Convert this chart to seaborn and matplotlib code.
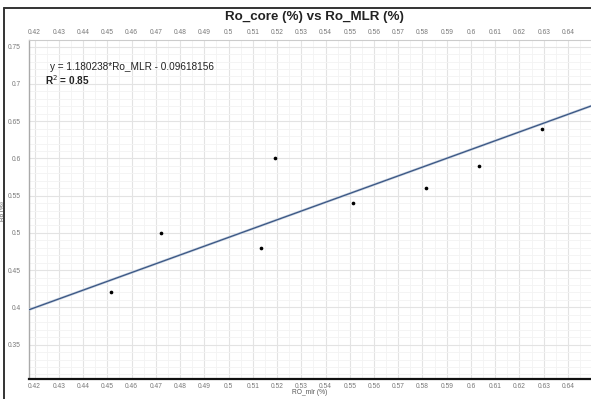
import numpy as np
import pandas as pd
import matplotlib
matplotlib.use("Agg")
import matplotlib.pyplot as plt
from matplotlib.lines import Line2D
from matplotlib.ticker import MultipleLocator, FixedLocator
import seaborn as sns

# Measured maturity values
ro_mlr = [0.4516, 0.4721, 0.5133, 0.5190, 0.5514, 0.5815, 0.6035, 0.6291]
ro_core = [0.42, 0.50, 0.48, 0.60, 0.54, 0.56, 0.59, 0.64]

# Regression fit
slope = 1.180238
intercept = -0.09618156
r_squared = 0.85

x_ticks = [0.42, 0.43, 0.44, 0.45, 0.46, 0.47, 0.48, 0.49, 0.5, 0.51, 0.52,
           0.53, 0.54, 0.55, 0.56, 0.57, 0.58, 0.59, 0.6, 0.61, 0.62, 0.63,
           0.64, 0.65]
y_ticks = [0.35, 0.4, 0.45, 0.5, 0.55, 0.6, 0.65, 0.7, 0.75]

sns.set_style("white")
plt.rcParams["font.family"] = ["Liberation Sans", "DejaVu Sans"]

W, H = 591, 399
fig = plt.figure(figsize=(W / 100, H / 100), dpi=100)
fig.patch.set_facecolor("white")

left, right, top, bottom = 29, 591, 40, 378.5
ax = fig.add_axes([left / W, 1 - bottom / H, (right - left) / W, (bottom - top) / H])

xmin, xmax = 0.4177, 0.6495
ymin, ymax = 0.3045, 0.759
ax.set_xlim(xmin, xmax)
ax.set_ylim(ymin, ymax)

# Grid: minor then major
ax.xaxis.set_major_locator(FixedLocator(x_ticks))
ax.yaxis.set_major_locator(FixedLocator(y_ticks))
ax.xaxis.set_minor_locator(MultipleLocator(0.005))
ax.yaxis.set_minor_locator(MultipleLocator(0.01))
ax.grid(which="major", color="#e3e3e3", lw=0.8)
ax.grid(which="minor", color="#f3f3f3", lw=0.6)
ax.set_axisbelow(True)

df = pd.DataFrame({"Ro_MLR": ro_mlr, "Ro_core": ro_core})
fit_x = np.array([xmin, xmax])
fit = pd.DataFrame({"x": fit_x, "y": slope * fit_x + intercept})

sns.lineplot(data=fit, x="x", y="y", ax=ax, color="#c3cede", lw=1.8, zorder=3)
sns.lineplot(data=fit, x="x", y="y", ax=ax, color="#3a5683", lw=0.9, zorder=4)
sns.scatterplot(data=df, x="Ro_MLR", y="Ro_core", ax=ax, color="black",
                s=7, linewidth=0, zorder=5)

ax.set_xlabel("RO_mlr (%)", fontsize=4.8, color="#555555")
ax.set_ylabel("Ro (%)", fontsize=4.6, color="#555555")
ax.xaxis.set_label_coords(0.5, -0.032)
ax.yaxis.set_label_coords(-0.043, 0.495)

ax.tick_params(axis="x", which="both", length=0, top=False, labeltop=True,
               labelsize=4.8, labelcolor="#777777", pad=3)
ax.tick_params(axis="y", which="both", length=0, labelsize=4.8,
               labelcolor="#777777", pad=6)
ax.set_xticklabels([f"{v:g}" for v in x_ticks])
ax.set_yticklabels([f"{v:g}" for v in y_ticks])

for side in ("top", "right"):
    ax.spines[side].set_visible(False)
ax.spines["left"].set_color("#aaaaaa")
ax.spines["left"].set_linewidth(1.0)
ax.spines["bottom"].set_color("#111111")
ax.spines["bottom"].set_linewidth(1.6)

# Regression annotation
ax.text(0.4262, 0.7225, f"y = {slope}*Ro_MLR - {abs(intercept)}",
        fontsize=7.2, color="#222222", va="center", ha="left")
ax.text(0.4242, 0.7055, f"R$^2$ = {r_squared}", fontsize=7.2,
        fontweight="bold", color="#222222", va="center", ha="left")

fig.text(314 / W, 1 - 17 / H, "Ro_core (%) vs Ro_MLR (%)", fontsize=9.6,
         fontweight="bold", color="#222222", ha="center", va="center")

# Outer panel frame
fig.add_artist(Line2D([4 / W, 4 / W], [0, 1 - 8 / H], transform=fig.transFigure,
                      color="#333333", lw=1.4))
fig.add_artist(Line2D([4 / W, 1], [1 - 8 / H, 1 - 8 / H], transform=fig.transFigure,
                      color="#333333", lw=1.4))
# Light border along the plot area's top
fig.add_artist(Line2D([left / W, 1], [1 - top / H, 1 - top / H], transform=fig.transFigure,
                      color="#cccccc", lw=0.8))

fig.savefig("out.png", dpi=100)
